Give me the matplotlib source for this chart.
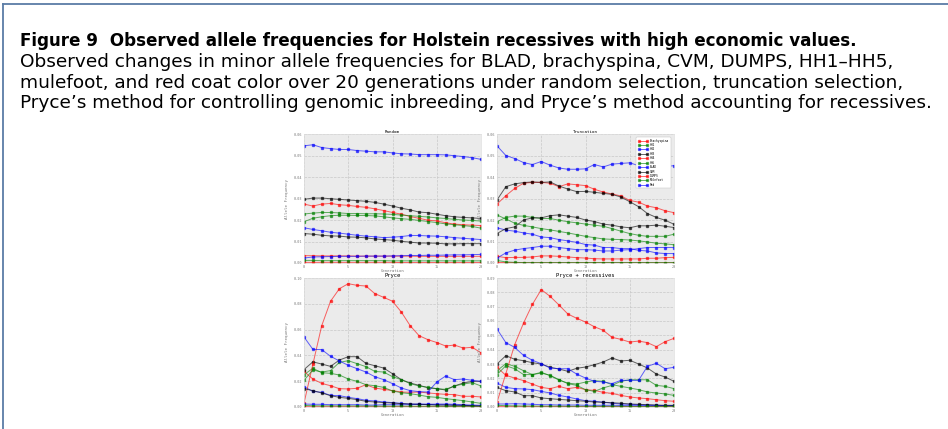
import numpy as np
import matplotlib.pyplot as plt
from matplotlib.lines import Line2D

gens = np.arange(21)
names = ['Brachyspina', 'HH1', 'HH2', 'HH3', 'HH4', 'HH5', 'BLAD', 'CVM', 'DUMPS', 'Mulefoot', 'Red']
colors = ['r', 'g', 'b', 'k', 'r', 'g', 'b', 'k', 'r', 'g', 'b']

# allele frequencies by generation, one row per recessive (same order as names)
random_freq = [
    [0.0274, 0.0265, 0.0274, 0.0277, 0.0271, 0.0268, 0.0263, 0.0259, 0.0252, 0.0244, 0.0235, 0.0227, 0.0216, 0.0208, 0.0199, 0.0196, 0.0187, 0.0181, 0.0178, 0.0176, 0.0174],
    [0.0228, 0.0232, 0.0235, 0.0235, 0.0233, 0.0230, 0.0230, 0.0229, 0.0229, 0.0228, 0.0226, 0.0223, 0.0220, 0.0217, 0.0214, 0.0210, 0.0207, 0.0203, 0.0200, 0.0198, 0.0195],
    [0.0164, 0.0156, 0.0150, 0.0143, 0.0139, 0.0134, 0.0129, 0.0125, 0.0122, 0.0118, 0.0120, 0.0123, 0.0128, 0.0128, 0.0126, 0.0125, 0.0122, 0.0118, 0.0115, 0.0112, 0.0109],
    [0.0296, 0.0302, 0.0302, 0.0299, 0.0296, 0.0293, 0.0290, 0.0287, 0.0282, 0.0274, 0.0265, 0.0255, 0.0247, 0.0237, 0.0234, 0.0227, 0.0220, 0.0215, 0.0212, 0.0210, 0.0207],
    [0.0034, 0.0034, 0.0033, 0.0033, 0.0033, 0.0033, 0.0032, 0.0032, 0.0032, 0.0032, 0.0032, 0.0032, 0.0032, 0.0031, 0.0031, 0.0031, 0.0031, 0.0031, 0.0031, 0.0031, 0.0031],
    [0.0192, 0.0208, 0.0215, 0.0220, 0.0222, 0.0222, 0.0221, 0.0221, 0.0219, 0.0215, 0.0210, 0.0206, 0.0203, 0.0198, 0.0193, 0.0188, 0.0182, 0.0178, 0.0174, 0.0170, 0.0162],
    [0.0023, 0.0028, 0.0029, 0.0030, 0.0031, 0.0031, 0.0031, 0.0032, 0.0032, 0.0032, 0.0033, 0.0034, 0.0035, 0.0035, 0.0036, 0.0036, 0.0037, 0.0038, 0.0038, 0.0039, 0.0040],
    [0.0137, 0.0134, 0.0129, 0.0126, 0.0125, 0.0121, 0.0120, 0.0117, 0.0112, 0.0109, 0.0106, 0.0101, 0.0097, 0.0093, 0.0093, 0.0092, 0.0089, 0.0089, 0.0090, 0.0090, 0.0090],
    [0.0003, 0.0003, 0.0003, 0.0003, 0.0003, 0.0003, 0.0003, 0.0003, 0.0003, 0.0003, 0.0003, 0.0002, 0.0002, 0.0002, 0.0002, 0.0002, 0.0002, 0.0002, 0.0002, 0.0002, 0.0002],
    [0.0012, 0.0012, 0.0011, 0.0011, 0.0011, 0.0011, 0.0011, 0.0011, 0.0011, 0.0011, 0.0010, 0.0010, 0.0010, 0.0010, 0.0010, 0.0010, 0.0010, 0.0010, 0.0010, 0.0010, 0.0010],
    [0.0545, 0.0550, 0.0537, 0.0532, 0.0528, 0.0528, 0.0523, 0.0520, 0.0517, 0.0517, 0.0512, 0.0508, 0.0507, 0.0504, 0.0504, 0.0504, 0.0503, 0.0499, 0.0495, 0.0490, 0.0482],
]

truncation_freq = [
    [0.0274, 0.0313, 0.0347, 0.0371, 0.0375, 0.0375, 0.0371, 0.0355, 0.0368, 0.0364, 0.0360, 0.0343, 0.0330, 0.0321, 0.0312, 0.0291, 0.0283, 0.0265, 0.0257, 0.0243, 0.0234],
    [0.0223, 0.0205, 0.0185, 0.0175, 0.0168, 0.0160, 0.0154, 0.0147, 0.0140, 0.0132, 0.0124, 0.0118, 0.0112, 0.0110, 0.0109, 0.0107, 0.0103, 0.0098, 0.0092, 0.0089, 0.0085],
    [0.0164, 0.0153, 0.0148, 0.0140, 0.0134, 0.0121, 0.0118, 0.0109, 0.0103, 0.0096, 0.0086, 0.0083, 0.0072, 0.0072, 0.0067, 0.0067, 0.0059, 0.0056, 0.0047, 0.0044, 0.0044],
    [0.0293, 0.0355, 0.0368, 0.0374, 0.0377, 0.0375, 0.0377, 0.0358, 0.0344, 0.0332, 0.0333, 0.0329, 0.0324, 0.0319, 0.0307, 0.0285, 0.0262, 0.0230, 0.0212, 0.0199, 0.0180],
    [0.0031, 0.0025, 0.0026, 0.0026, 0.0028, 0.0033, 0.0033, 0.0031, 0.0028, 0.0025, 0.0023, 0.0020, 0.0019, 0.0019, 0.0019, 0.0019, 0.0019, 0.0022, 0.0022, 0.0025, 0.0026],
    [0.0192, 0.0212, 0.0218, 0.0218, 0.0212, 0.0207, 0.0207, 0.0199, 0.0192, 0.0187, 0.0181, 0.0176, 0.0171, 0.0160, 0.0148, 0.0137, 0.0129, 0.0124, 0.0124, 0.0124, 0.0134],
    [0.0023, 0.0047, 0.0060, 0.0067, 0.0072, 0.0078, 0.0078, 0.0072, 0.0067, 0.0062, 0.0062, 0.0060, 0.0056, 0.0056, 0.0060, 0.0062, 0.0067, 0.0072, 0.0072, 0.0072, 0.0072],
    [0.0137, 0.0160, 0.0168, 0.0200, 0.0210, 0.0210, 0.0220, 0.0224, 0.0218, 0.0212, 0.0200, 0.0193, 0.0181, 0.0176, 0.0168, 0.0164, 0.0173, 0.0173, 0.0176, 0.0171, 0.0165],
    [0.0003, 0.0002, 0.0002, 0.0001, 0.0001, 0.0001, 0.0001, 0.0001, 0.0001, 0.0001, 0.0001, 0.0001, 0.0001, 0.0001, 0.0001, 0.0001, 0.0001, 0.0001, 0.0001, 0.0001, 0.0001],
    [0.0012, 0.0005, 0.0003, 0.0002, 0.0002, 0.0002, 0.0002, 0.0002, 0.0002, 0.0002, 0.0002, 0.0002, 0.0002, 0.0002, 0.0002, 0.0002, 0.0002, 0.0002, 0.0002, 0.0002, 0.0002],
    [0.0545, 0.0500, 0.0486, 0.0467, 0.0458, 0.0472, 0.0455, 0.0442, 0.0436, 0.0436, 0.0438, 0.0458, 0.0447, 0.0460, 0.0463, 0.0466, 0.0453, 0.0460, 0.0444, 0.0448, 0.0453],
]

pryce_freq = [
    [0.0276, 0.0217, 0.0183, 0.0165, 0.0142, 0.0140, 0.0145, 0.0173, 0.0147, 0.0137, 0.0127, 0.0116, 0.0114, 0.0116, 0.0109, 0.0103, 0.0098, 0.0096, 0.0083, 0.0083, 0.0078],
    [0.0250, 0.0300, 0.0266, 0.0261, 0.0248, 0.0217, 0.0199, 0.0173, 0.0165, 0.0152, 0.0124, 0.0111, 0.0103, 0.0093, 0.0080, 0.0075, 0.0065, 0.0057, 0.0049, 0.0039, 0.0028],
    [0.0158, 0.0121, 0.0114, 0.0090, 0.0088, 0.0075, 0.0065, 0.0052, 0.0047, 0.0039, 0.0034, 0.0028, 0.0023, 0.0023, 0.0021, 0.0018, 0.0018, 0.0015, 0.0013, 0.0010, 0.0008],
    [0.0290, 0.0350, 0.0333, 0.0315, 0.0364, 0.0390, 0.0390, 0.0338, 0.0320, 0.0302, 0.0258, 0.0212, 0.0186, 0.0168, 0.0150, 0.0142, 0.0132, 0.0163, 0.0186, 0.0199, 0.0199],
    [0.0030, 0.0330, 0.0630, 0.0820, 0.0917, 0.0956, 0.0943, 0.0938, 0.0879, 0.0850, 0.0820, 0.0736, 0.0630, 0.0553, 0.0522, 0.0500, 0.0473, 0.0480, 0.0457, 0.0463, 0.0420],
    [0.0207, 0.0287, 0.0271, 0.0282, 0.0346, 0.0359, 0.0336, 0.0313, 0.0276, 0.0271, 0.0235, 0.0212, 0.0181, 0.0163, 0.0152, 0.0142, 0.0137, 0.0163, 0.0178, 0.0189, 0.0163],
    [0.0023, 0.0021, 0.0021, 0.0018, 0.0018, 0.0018, 0.0018, 0.0015, 0.0015, 0.0018, 0.0018, 0.0018, 0.0018, 0.0021, 0.0021, 0.0023, 0.0023, 0.0021, 0.0018, 0.0015, 0.0013],
    [0.0142, 0.0127, 0.0109, 0.0088, 0.0075, 0.0067, 0.0057, 0.0044, 0.0039, 0.0034, 0.0031, 0.0026, 0.0023, 0.0021, 0.0018, 0.0015, 0.0015, 0.0013, 0.0013, 0.0010, 0.0008],
    [0.0003, 0.0002, 0.0002, 0.0002, 0.0002, 0.0002, 0.0002, 0.0002, 0.0002, 0.0002, 0.0002, 0.0002, 0.0002, 0.0002, 0.0002, 0.0002, 0.0002, 0.0002, 0.0002, 0.0002, 0.0002],
    [0.0012, 0.0010, 0.0009, 0.0009, 0.0008, 0.0008, 0.0008, 0.0008, 0.0007, 0.0007, 0.0007, 0.0007, 0.0006, 0.0006, 0.0006, 0.0006, 0.0005, 0.0005, 0.0005, 0.0005, 0.0005],
    [0.0543, 0.0447, 0.0445, 0.0393, 0.0357, 0.0323, 0.0297, 0.0271, 0.0235, 0.0212, 0.0181, 0.0147, 0.0127, 0.0119, 0.0116, 0.0194, 0.0240, 0.0212, 0.0217, 0.0207, 0.0199],
]

pryce_rec_freq = [
    [0.0277, 0.0221, 0.0202, 0.0184, 0.0160, 0.0137, 0.0128, 0.0144, 0.0128, 0.0137, 0.0121, 0.0116, 0.0102, 0.0095, 0.0081, 0.0070, 0.0063, 0.0058, 0.0051, 0.0044, 0.0040],
    [0.0253, 0.0302, 0.0284, 0.0253, 0.0226, 0.0237, 0.0221, 0.0191, 0.0163, 0.0151, 0.0121, 0.0109, 0.0133, 0.0151, 0.0179, 0.0190, 0.0190, 0.0190, 0.0151, 0.0144, 0.0128],
    [0.0167, 0.0137, 0.0128, 0.0126, 0.0121, 0.0109, 0.0098, 0.0081, 0.0070, 0.0056, 0.0044, 0.0040, 0.0033, 0.0026, 0.0021, 0.0019, 0.0016, 0.0014, 0.0012, 0.0009, 0.0009],
    [0.0300, 0.0358, 0.0333, 0.0323, 0.0309, 0.0300, 0.0277, 0.0265, 0.0249, 0.0270, 0.0279, 0.0295, 0.0314, 0.0342, 0.0321, 0.0326, 0.0300, 0.0272, 0.0230, 0.0209, 0.0179],
    [0.0033, 0.0233, 0.0435, 0.0586, 0.0716, 0.0819, 0.0772, 0.0712, 0.0649, 0.0619, 0.0593, 0.0560, 0.0535, 0.0486, 0.0472, 0.0453, 0.0460, 0.0449, 0.0421, 0.0456, 0.0479],
    [0.0226, 0.0288, 0.0267, 0.0226, 0.0226, 0.0242, 0.0219, 0.0188, 0.0167, 0.0160, 0.0174, 0.0184, 0.0179, 0.0156, 0.0144, 0.0133, 0.0121, 0.0105, 0.0098, 0.0091, 0.0081],
    [0.0021, 0.0021, 0.0023, 0.0021, 0.0019, 0.0016, 0.0016, 0.0014, 0.0014, 0.0014, 0.0012, 0.0012, 0.0012, 0.0012, 0.0011, 0.0011, 0.0011, 0.0010, 0.0010, 0.0010, 0.0010],
    [0.0137, 0.0114, 0.0105, 0.0079, 0.0079, 0.0063, 0.0058, 0.0053, 0.0049, 0.0044, 0.0040, 0.0035, 0.0033, 0.0030, 0.0026, 0.0021, 0.0019, 0.0016, 0.0014, 0.0012, 0.0012],
    [0.0003, 0.0002, 0.0002, 0.0002, 0.0002, 0.0002, 0.0002, 0.0002, 0.0002, 0.0002, 0.0002, 0.0002, 0.0002, 0.0002, 0.0002, 0.0002, 0.0002, 0.0002, 0.0002, 0.0002, 0.0002],
    [0.0012, 0.0009, 0.0008, 0.0007, 0.0007, 0.0006, 0.0006, 0.0006, 0.0005, 0.0005, 0.0005, 0.0005, 0.0005, 0.0005, 0.0005, 0.0004, 0.0004, 0.0004, 0.0004, 0.0004, 0.0004],
    [0.0544, 0.0449, 0.0416, 0.0360, 0.0326, 0.0302, 0.0272, 0.0267, 0.0267, 0.0230, 0.0202, 0.0179, 0.0175, 0.0163, 0.0186, 0.0186, 0.0186, 0.0284, 0.0305, 0.0267, 0.0277],
]

caption = [
    ("Figure 9  Observed allele frequencies for Holstein recessives with high economic values.", 'bold'),
    ("Observed changes in minor allele frequencies for BLAD, brachyspina, CVM, DUMPS, HH1\u2013HH5,", 'normal'),
    ("mulefoot, and red coat color over 20 generations under random selection, truncation selection,", 'normal'),
    ("Pryce\u2019s method for controlling genomic inbreeding, and Pryce\u2019s method accounting for recessives.", 'normal'),
]

W, H = 948, 429
fig = plt.figure(figsize=(W / 100, H / 100), dpi=100)

# page frame
frame_col = '#5b7ca6'
fig.add_artist(Line2D([3 / W, 1.0], [1 - 4 / H, 1 - 4 / H], color=frame_col, lw=1.3))
fig.add_artist(Line2D([3 / W, 3 / W], [0.0, 1 - 4 / H], color=frame_col, lw=1.3))

for i, (line, weight) in enumerate(caption):
    size = 12.1 if weight == 'bold' else 13.3
    fig.text(20 / W, 1 - (46 + 20.8 * i) / H, line, fontsize=size, fontweight=weight,
             va='baseline', ha='left', family='DejaVu Sans')

panels = [
    ('Random', random_freq, 0.06, 0.01, [304, 134]),
    ('Truncation', truncation_freq, 0.06, 0.01, [497, 134]),
    ('Pryce', pryce_freq, 0.10, 0.02, [304, 278]),
    ('Pryce + recessives', pryce_rec_freq, 0.09, 0.01, [497, 278]),
]
aw, ah = 177, 129
mono = 'DejaVu Sans Mono'

for title, data, ymax, ystep, (px, py) in panels:
    ax = fig.add_axes([px / W, 1 - (py + ah) / H, aw / W, ah / H])
    ax.set_facecolor('#ebebeb')
    for vals, name, c in zip(data, names, colors):
        ax.plot(gens, vals, color=c, lw=0.7, alpha=0.6, marker='s', ms=1.4,
                mec=c, mfc=c, label=name)
    ax.set_xlim(0, 20)
    ax.set_ylim(0, ymax)
    ax.set_xticks([0, 5, 10, 15, 20])
    ax.set_yticks(np.arange(0, ymax + ystep / 2, ystep))
    ax.yaxis.set_major_formatter(plt.FormatStrFormatter('%.2f'))
    ax.grid(True, color='#c8c8c8', ls='--', lw=0.5)
    ax.set_axisbelow(True)
    ax.tick_params(length=0, labelsize=2.5, labelcolor='#777777', pad=1.5)
    for lab in ax.get_xticklabels() + ax.get_yticklabels():
        lab.set_family(mono)
    for sp in ax.spines.values():
        sp.set_color('#dddddd')
        sp.set_linewidth(0.5)
    fs = 3.0 if py < 200 else 4.0
    ax.set_title(title, fontsize=fs, family=mono, pad=0.8)
    ax.set_xlabel('Generation', fontsize=2.9, family=mono, color='#777777', labelpad=0.3)
    ax.set_ylabel('Allele Frequency', fontsize=3.0, family=mono, color='#777777', labelpad=3)
    if title == 'Truncation':
        leg = ax.legend(loc='upper right', numpoints=2, handlelength=3.2,
                        borderaxespad=1.0, labelspacing=0.14, borderpad=0.5,
                        handletextpad=0.8, frameon=True, framealpha=1.0,
                        prop={'family': mono, 'size': 2.2})
        leg.get_frame().set_linewidth(0.3)
        leg.get_frame().set_edgecolor('#bbbbbb')

fig.savefig('out.png', dpi=100)
